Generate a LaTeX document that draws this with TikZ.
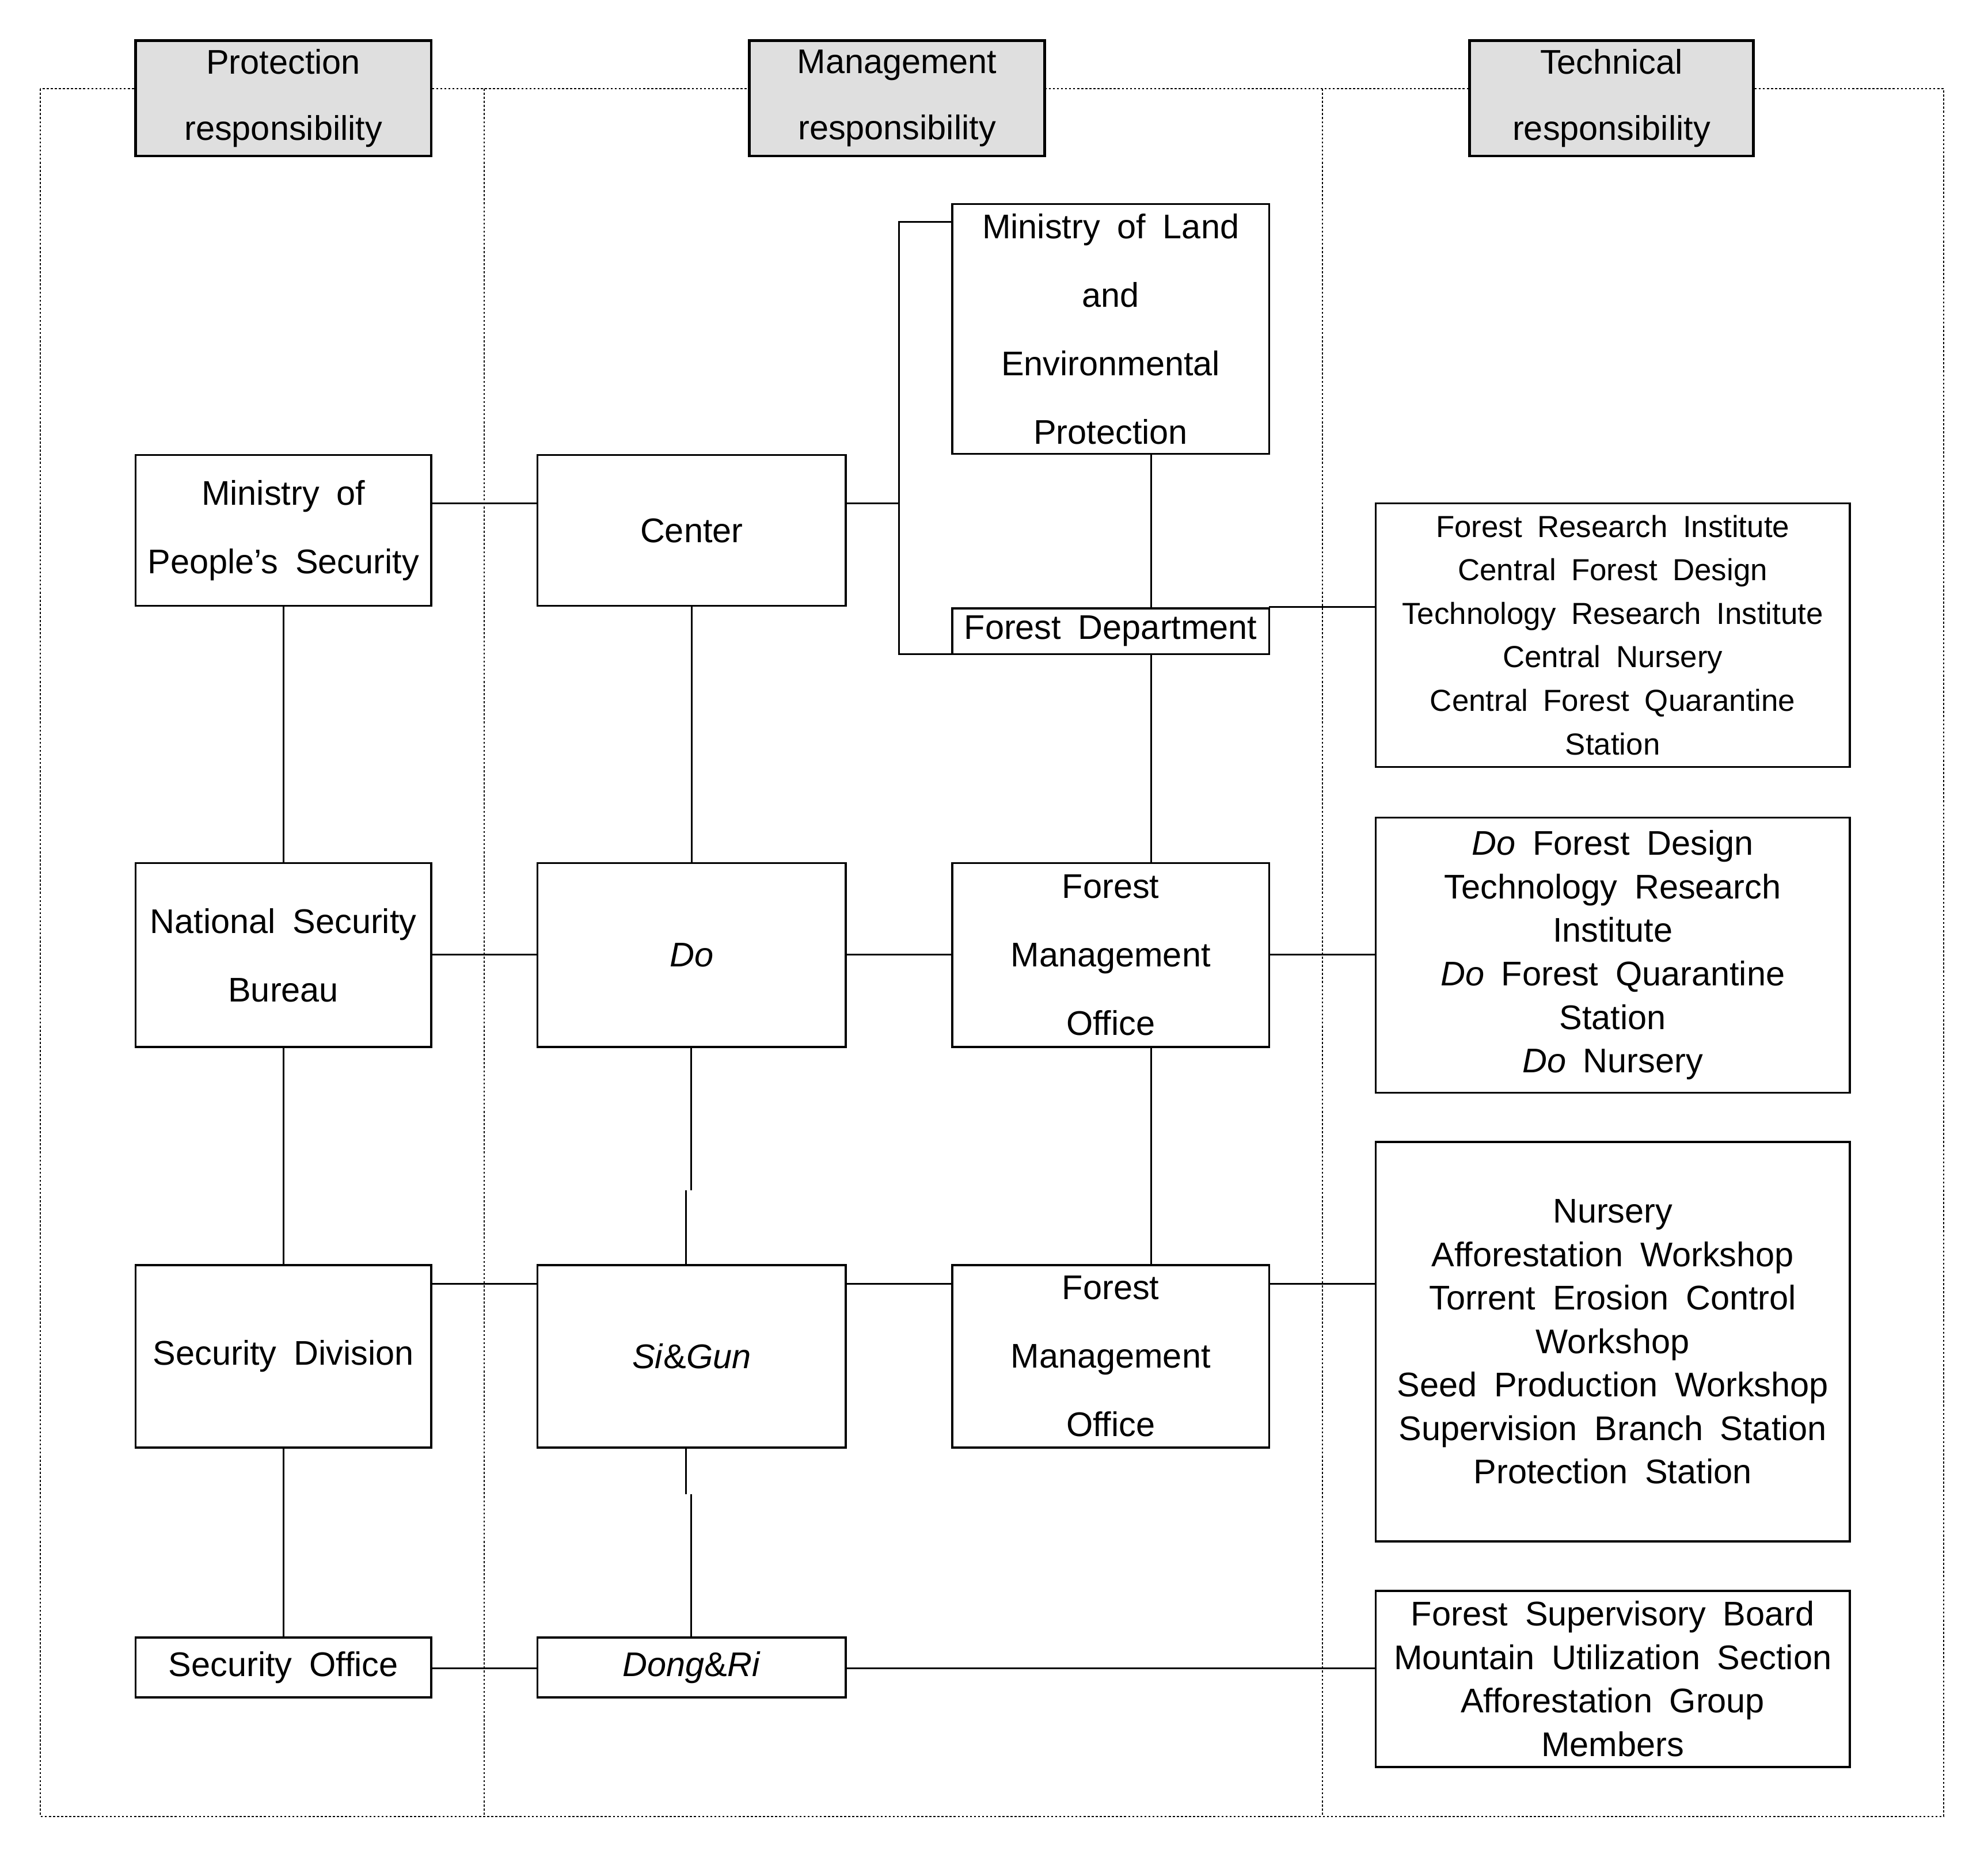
\documentclass[tikz,border=0pt]{standalone}
\usepackage{fontspec}
\setmainfont{Liberation Sans}[WordSpace=1.8]
\begin{document}
\begin{tikzpicture}[x=1pt,y=-1pt,
  frame/.style={line width=0.9pt, dash pattern=on 1.6pt off 1.6pt},
  box/.style={draw, line width=1.6pt, inner sep=0pt, outer sep=0pt, align=center, fill=white,
    font=\fontsize{27}{54}\selectfont},
  tallbox/.style={box, font=\fontsize{27}{34.3}\selectfont},
  narrowbox/.style={box, font=\fontsize{24}{34.3}\selectfont},
  hdr/.style={box, line width=2pt, fill=gray!25, font=\fontsize{27}{52}\selectfont},
  link/.style={line width=1.3pt}]
\useasboundingbox (0,0) rectangle (1568,1469);
% frame
\draw[frame] (32,70) rectangle (1533,1433);
\draw[frame] (382,70) -- (382,1433);
\draw[frame] (1043,70) -- (1043,1433);
% headers
\node[hdr, minimum width=233pt, minimum height=91pt] (hP) at (223.5,77.5) {Protection\\responsibility};
\node[hdr, minimum width=233pt, minimum height=91pt] (hM) at (707.5,77.5) {Management\\responsibility};
\node[hdr, minimum width=224pt, minimum height=91pt] (hT) at (1271,77.5) {Technical\\responsibility};
% left column
\node[box, minimum width=233pt, minimum height=119pt] (MPS) at (223.5,418.5) {Ministry of\\People’s Security};
\node[box, minimum width=233pt, minimum height=145pt] (NSB) at (223.5,753.5) {National Security\\Bureau};
\node[box, minimum width=233pt, minimum height=144pt] (SD) at (223.5,1070) {Security Division};
\node[box, minimum width=233pt, minimum height=47pt] (SO) at (223.5,1315.5) {Security Office};
% middle column
\node[box, minimum width=243pt, minimum height=119pt] (C) at (545.5,418.5) {Center};
\node[box, minimum width=243pt, minimum height=145pt] (Do) at (545.5,753.5) {\textit{Do}};
\node[box, minimum width=243pt, minimum height=144pt] (SG) at (545.5,1070) {\textit{Si}\&\textit{Gun}};
\node[box, minimum width=243pt, minimum height=47pt] (DR) at (545.5,1315.5) {\textit{Dong}\&\textit{Ri}};
% third column
\node[box, minimum width=250pt, minimum height=197pt] (ML) at (876,259.5) {Ministry of Land\\and\\Environmental\\Protection};
\node[box, minimum width=250pt, minimum height=36pt] (FD) at (876,498) {Forest Department};
\node[box, minimum width=250pt, minimum height=145pt] (FM1) at (876,753.5) {Forest\\Management\\Office};
\node[box, minimum width=250pt, minimum height=144pt] (FM2) at (876,1070) {Forest\\Management\\Office};
% right column
\node[narrowbox, minimum width=374pt, minimum height=208pt] (B1) at (1272,501) {Forest Research Institute\\Central Forest Design\\Technology Research Institute\\Central Nursery\\Central Forest Quarantine\\Station};
\node[tallbox, minimum width=374pt, minimum height=217pt] (B2) at (1272,753.5) {\textit{Do} Forest Design\\Technology Research\\Institute\\\textit{Do} Forest Quarantine\\Station\\\textit{Do} Nursery};
\node[tallbox, minimum width=374pt, minimum height=315pt] (B3) at (1272,1058.5) {Nursery\\Afforestation Workshop\\Torrent Erosion Control\\Workshop\\Seed Production Workshop\\Supervision Branch Station\\Protection Station};
\node[tallbox, minimum width=374pt, minimum height=139pt] (B4) at (1272,1324.5) {Forest Supervisory Board\\Mountain Utilization Section\\Afforestation Group\\Members};
% connector levels
\coordinate (r1) at (0,397);
\coordinate (r2) at (0,753);
\coordinate (r3) at (0,1013);
\coordinate (r4) at (0,1316);
\coordinate (rFD) at (0,479);
\coordinate (br) at (709,397);
\coordinate (brT) at (709,175);
\coordinate (brB) at (709,516);
\coordinate (j1) at (541,939);
\coordinate (j2) at (545,1179);
\coordinate (vM) at (908,0);
% horizontal connectors
\draw[link] (MPS.east |- r1) -- (C.west |- r1);
\draw[link] (C.east |- r1) -- (br);
\draw[link] (brT -| ML.west) -- (brT) -- (brB) -- (FD.south west);
\draw[link] (FD.east |- rFD) -- (B1.west |- rFD);
\draw[link] (NSB.east |- r2) -- (Do.west |- r2);
\draw[link] (Do.east |- r2) -- (FM1.west |- r2);
\draw[link] (FM1.east |- r2) -- (B2.west |- r2);
\draw[link] (SD.east |- r3) -- (SG.west |- r3);
\draw[link] (SG.east |- r3) -- (FM2.west |- r3);
\draw[link] (FM2.east |- r3) -- (B3.west |- r3);
\draw[link] (SO.east |- r4) -- (DR.west |- r4);
\draw[link] (DR.east |- r4) -- (B4.west |- r4);
% vertical connectors
\draw[link] (MPS.south) -- (NSB.north);
\draw[link] (NSB.south) -- (SD.north);
\draw[link] (SD.south) -- (SO.north);
\draw[link] (C.south) -- (Do.north);
\draw[link] (Do.south -| 545,0) -- (545,939) (j1) -- (SG.north -| j1);
\draw[link] (SG.south -| j1) -- (541,1179) (j2) -- (DR.north -| j2);
\draw[link] (ML.south -| vM) -- (FD.north -| vM);
\draw[link] (FD.south -| vM) -- (FM1.north -| vM);
\draw[link] (FM1.south -| vM) -- (FM2.north -| vM);
\end{tikzpicture}
\end{document}
